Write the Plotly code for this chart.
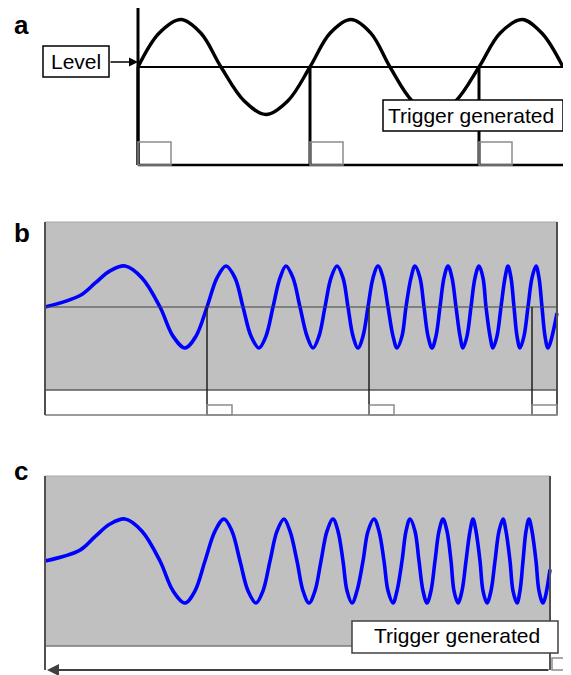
import plotly.graph_objects as go

# ---------------- data ----------------
# Panel a: steady sine wave (time units, amplitude relative to the trigger level)
a_time = [0, 21, 43, 63, 83, 106, 128, 150,
          172, 192, 213, 233, 252, 274, 296, 318,
          341, 362, 384, 404, 425]
a_signal = [0, 0.71, 1, 0.71, 0, -0.71, -1, -0.71,
            0, 0.71, 1, 0.71, 0, -0.71, -1, -0.71,
            0, 0.71, 1, 0.71, 0]
a_trigger_times = [0, 172, 341]
a_level = 0.0

# Panel b: chirp signal, triggers at the rising crossings
b_time = [0, 35, 50, 65, 80,
          97, 115, 128, 140, 151, 162, 172, 181,
          190, 198, 206, 214, 221, 228, 235, 241,
          248, 255, 262, 268, 274, 280, 286, 292,
          298, 303, 308, 313, 318, 323, 328, 333,
          338, 343, 348, 352, 357, 361, 366, 370,
          375, 379, 383, 387, 391, 395, 399, 403,
          407, 411, 415, 418, 422, 426, 430, 434,
          438, 441, 445, 448, 452, 456, 460, 463,
          466, 469, 472, 475, 479, 483, 487, 491,
          494, 497, 500, 503, 512]
b_signal = [0, 0.28, 0.58, 0.88, 1,
            0.71, 0, -0.71, -1, -0.71, 0, 0.71, 1,
            0.71, 0, -0.71, -1, -0.71, 0, 0.71, 1,
            0.71, 0, -0.71, -1, -0.71, 0, 0.71, 1,
            0.71, 0, -0.71, -1, -0.71, 0, 0.71, 1,
            0.71, 0, -0.71, -1, -0.71, 0, 0.71, 1,
            0.71, 0, -0.71, -1, -0.71, 0, 0.71, 1,
            0.71, 0, -0.71, -1, -0.71, 0, 0.71, 1,
            0.71, 0, -0.71, -1, -0.71, 0, 0.71, 1,
            0.71, 0, -0.71, -1, -0.71, 0, 0.71, 1,
            0.71, 0, -0.71, -1, -0.15]
b_trigger_times = [162, 324, 487]

# Panel c: chirp signal, trigger generated at the end of the record
c_time = [0, 35, 50, 65, 80,
          97, 115, 128, 140, 150, 160, 170, 179,
          187, 195, 203, 211, 218, 225, 232, 239,
          245, 252, 258, 264, 270, 276, 282, 288,
          293, 298, 302, 307, 312, 318, 323, 329,
          334, 339, 343, 348, 352, 357, 361, 365,
          370, 374, 378, 382, 386, 390, 394, 398,
          402, 406, 409, 413, 417, 421, 425, 428,
          431, 435, 438, 442, 446, 450, 454, 458,
          461, 465, 468, 472, 475, 478, 481, 484,
          487, 491, 494, 498, 505]
c_signal = [0, 0.26, 0.58, 0.88, 1,
            0.71, 0, -0.71, -1, -0.71, 0, 0.71, 1,
            0.71, 0, -0.71, -1, -0.71, 0, 0.71, 1,
            0.71, 0, -0.71, -1, -0.71, 0, 0.71, 1,
            0.71, 0, -0.71, -1, -0.71, 0, 0.71, 1,
            0.71, 0, -0.71, -1, -0.71, 0, 0.71, 1,
            0.71, 0, -0.71, -1, -0.71, 0, 0.71, 1,
            0.71, 0, -0.71, -1, -0.71, 0, 0.71, 1,
            0.71, 0, -0.71, -1, -0.71, 0, 0.71, 1,
            0.71, 0, -0.71, -1, -0.71, 0, 0.71, 1,
            0.71, 0, -0.71, -1, -0.2]
c_trigger_times = [505]

panel_labels = ["a", "b", "c"]
level_text = "Level"
trigger_text = "Trigger generated"

# ---------------- geometry (pixels of the 571x675 page) ----------------
PAGE_W, PAGE_H = 571, 675
OFF = 8                      # default body margin of the html page
W, H = PAGE_W - OFF, PAGE_H - OFF
FONT = "Liberation Sans, Arial, sans-serif"
GRAY_BG = "#c0c0c0"
BLUE = "#0000ff"

panels = {
    "a": dict(x0=138, yc=67, amp=47.5, top=OFF, bottom=192),
    "b": dict(x0=45, yc=307, amp=41.0, top=192, bottom=432),
    "c": dict(x0=45, yc=561, amp=42.0, top=432, bottom=PAGE_H),
}
axis_ids = {"a": ("x", "y"), "b": ("x2", "y2"), "c": ("x3", "y3")}


def X(p, key):
    return p - panels[key]["x0"]


def Y(p, key):
    g = panels[key]
    return (g["yc"] - p) / g["amp"]


fig = go.Figure()

# waveforms
for key, t, v, col, w in [("a", a_time, a_signal, "black", 3.4),
                          ("b", b_time, b_signal, BLUE, 3.6),
                          ("c", c_time, c_signal, BLUE, 3.6)]:
    xa, ya = axis_ids[key]
    fig.add_trace(go.Scatter(
        x=t, y=v, mode="lines", xaxis=xa, yaxis=ya,
        line=dict(color=col, width=w, shape="spline", smoothing=1.0),
        hoverinfo="skip", showlegend=False))

shapes = []
annotations = []


def line(key, x0, y0, x1, y1, color="black", width=1.5, layer="above"):
    xa, ya = axis_ids[key]
    shapes.append(dict(type="line", xref=xa, yref=ya, x0=x0, y0=y0, x1=x1, y1=y1,
                       line=dict(color=color, width=width), layer=layer))


def rect(key, x0, y0, x1, y1, color="black", width=1.5, fill="rgba(0,0,0,0)", layer="above"):
    xa, ya = axis_ids[key]
    shapes.append(dict(type="rect", xref=xa, yref=ya, x0=x0, y0=y0, x1=x1, y1=y1,
                       line=dict(color=color, width=width), fillcolor=fill, layer=layer))


def text(key, px, py, s, size=21):
    xa, ya = axis_ids[key]
    annotations.append(dict(xref=xa, yref=ya, x=X(px, key), y=Y(py, key), text=s,
                            showarrow=False, xanchor="center", yanchor="middle",
                            font=dict(family=FONT, size=size, color="black")))


# ---------- panel a ----------
k = "a"
line(k, 0, Y(8, k), 0, Y(165, k), width=3)
line(k, 0, a_level, X(563, k), a_level, width=2)
line(k, 0, Y(165, k), X(565, k), Y(165, k), width=2.5)
for t in a_trigger_times:
    line(k, t, a_level, t, Y(165, k), width=3)
    rect(k, t, Y(142, k), t + 33, Y(165, k), color="#8c8c8c", width=1.5)
rect(k, X(43, k), Y(46, k), X(109, k), Y(77, k), fill="white", width=1.5)
text(k, 76, 61.5, level_text)
annotations.append(dict(xref="x", yref="y", axref="x", ayref="y",
                        x=0, y=Y(62, k), ax=X(109, k), ay=Y(62, k), text="",
                        showarrow=True, arrowhead=2, arrowsize=1.2, arrowwidth=1.5,
                        arrowcolor="black", standoff=0))
rect(k, X(383, k), Y(100, k), X(563, k), Y(131, k), fill="white", width=1.5)
text(k, 471, 115.7, trigger_text)

# ---------- panel b ----------
k = "b"
rect(k, 0, Y(222, k), X(557, k), Y(390, k), color=GRAY_BG, width=0, fill=GRAY_BG, layer="below")
line(k, 0, Y(222, k), X(557, k), Y(222, k), color="#a8a8a8", width=1)
line(k, 0, Y(390, k), X(557, k), Y(390, k), color="#5a5a5a", width=1.5)
line(k, 0, Y(415, k), X(557, k), Y(415, k), color="#7a7a7a", width=1.5)
line(k, 0, 0, X(557, k), 0, color="#404040", width=1)
line(k, 0, Y(222, k), 0, Y(415, k), color="#505050", width=2)
line(k, X(557, k), Y(222, k), X(557, k), Y(415, k), color="#505050", width=2)
for t in b_trigger_times:
    line(k, t, 0, t, Y(415, k), color="#202020", width=1.5)
    rect(k, t, Y(405, k), min(t + 25, X(557, k)), Y(415, k), color="#8c8c8c", width=1.5)

# ---------- panel c ----------
k = "c"
rect(k, 0, Y(476, k), X(550, k), Y(646, k), color=GRAY_BG, width=0, fill=GRAY_BG, layer="below")
line(k, 0, Y(476, k), X(550, k), Y(476, k), color="#a8a8a8", width=1)
line(k, 0, Y(646, k), X(550, k), Y(646, k), color="#7a7a7a", width=1.5)
line(k, 0, Y(476, k), 0, Y(670, k), color="#505050", width=2)
line(k, X(550, k), Y(476, k), X(550, k), Y(646, k), color="#505050", width=2)
for t in c_trigger_times:
    line(k, t, Y(646, k), t, Y(670, k), color="#202020", width=1.5)
    rect(k, t + 2, Y(658, k), t + 20, Y(670, k), color="#8c8c8c", width=1.5)
    annotations.append(dict(xref="x3", yref="y3", axref="x3", ayref="y3",
                            x=X(47, k), y=Y(670, k), ax=t, ay=Y(670, k), text="",
                            showarrow=True, arrowhead=2, arrowsize=1.2, arrowwidth=2,
                            arrowcolor="#404040", standoff=0))
rect(k, X(352, k), Y(621, k), X(558, k), Y(653, k), color="#404040", fill="white", width=1.5)
text(k, 457, 635.7, trigger_text)

# panel letters
label_pos = [(21.5, OFF, "top"), (22, 233, "middle"), (20.5, 471, "middle")]
for lab, (px, py, anc) in zip(panel_labels, label_pos):
    annotations.append(dict(xref="paper", yref="paper", x=(px - OFF) / W, y=1 - (py - OFF) / H,
                            text="<b>%s</b>" % lab, showarrow=False,
                            xanchor="center", yanchor=anc,
                            font=dict(family=FONT, size=26, color="black")))

# axes: each panel spans the full width, in its own vertical band
layout_axes = {}
for key in ["a", "b", "c"]:
    g = panels[key]
    xa, ya = axis_ids[key]
    xname = "xaxis" if xa == "x" else "xaxis" + xa[1:]
    yname = "yaxis" if ya == "y" else "yaxis" + ya[1:]
    layout_axes[xname] = dict(domain=[0, 1], range=[OFF - g["x0"], PAGE_W - g["x0"]], anchor=ya,
                              visible=False, fixedrange=True)
    layout_axes[yname] = dict(domain=[1 - (g["bottom"] - OFF) / H, 1 - (g["top"] - OFF) / H],
                              range=[(g["yc"] - g["bottom"]) / g["amp"], (g["yc"] - g["top"]) / g["amp"]],
                              anchor=xa, visible=False, fixedrange=True)

fig.update_layout(width=W, height=H, margin=dict(l=0, r=0, t=0, b=0),
                  paper_bgcolor="white", plot_bgcolor="white",
                  shapes=shapes, annotations=annotations, showlegend=False,
                  **layout_axes)

fig.write_html("out.html", config={"displayModeBar": False})
